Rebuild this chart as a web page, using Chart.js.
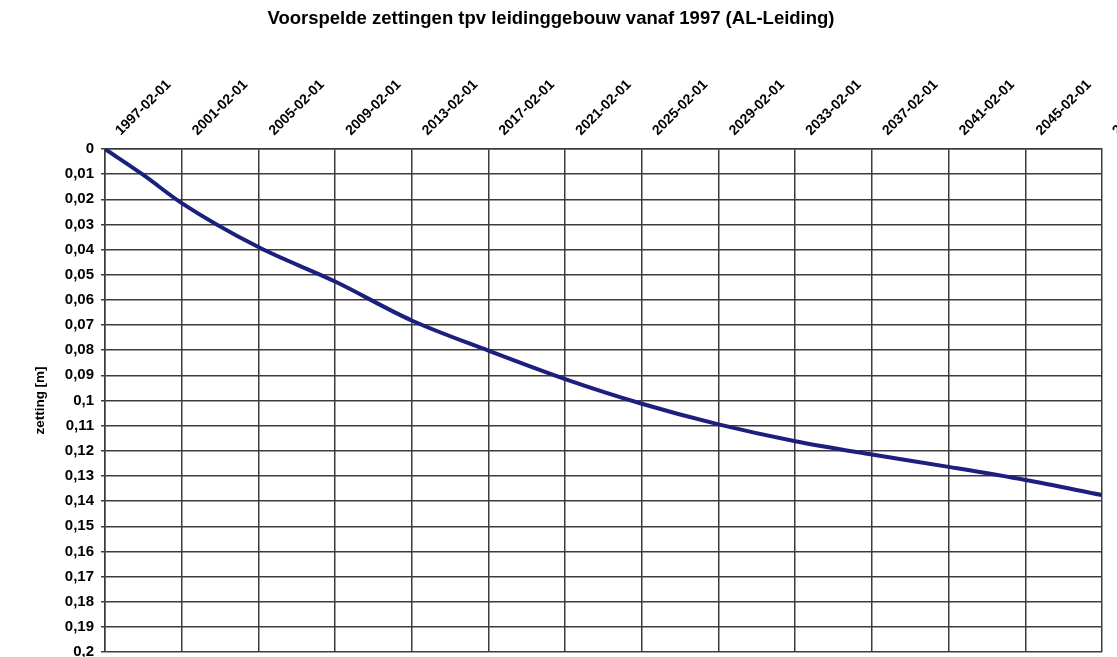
<!DOCTYPE html>
<html>
<head>
<meta charset="utf-8">
<script src="https://cdn.jsdelivr.net/npm/chart.js@4"></script>
<style>
  html, body { margin: 0; padding: 0; background: #fff; overflow: hidden; }
</style>
</head>
<body>
<canvas id="chart" width="1117" height="657"></canvas>
<script>
// jaar (1 februari) en voorspelde zetting [m]
const years = [1997, 1999, 2001, 2005, 2009, 2013, 2017, 2021, 2025, 2029, 2033, 2037, 2041, 2045, 2049];
const settlement = [0, 0.0103, 0.0215, 0.039, 0.0527, 0.0682, 0.0802, 0.0915, 0.1013, 0.1095, 0.1162, 0.1215, 0.1264, 0.1316, 0.1376];
const yearMin = 1997;
const yearMax = 2049;
const yearStep = 4;

const gridColor = "#3c3c3c";
const fontFamily = "Liberation Sans, Arial";

const ctx = document.getElementById("chart").getContext("2d");
new Chart(ctx, {
  type: "line",
  data: {
    datasets: [
      {
        data: years.map((y, i) => ({ x: y, y: settlement[i] })),
        borderColor: "#1b1f7e",
        borderWidth: 4,
        pointRadius: 0,
        cubicInterpolationMode: "monotone",
        fill: false,
      },
    ],
  },
  options: {
    responsive: false,
    animation: false,
    layout: { padding: { left: 0, right: 15, top: 0, bottom: 5 } },
    plugins: {
      legend: { display: false },
      tooltip: { enabled: false },
      title: {
        display: true,
        text: "Voorspelde zettingen tpv leidinggebouw vanaf 1997 (AL-Leiding)",
        color: "#000",
        font: { family: fontFamily, size: 18.5, weight: "bold" },
        padding: { top: 8, bottom: 6 },
      },
    },
    scales: {
      x: {
        type: "linear",
        position: "top",
        min: yearMin,
        max: yearMax,
        afterFit: (s) => {
          s.height = 149 - 36.2;
          s.paddingRight = 0;
          s.paddingLeft = 0;
        },
        ticks: {
          stepSize: yearStep,
          autoSkip: false,
          maxRotation: 45,
          minRotation: 45,
          padding: 10,
          labelOffset: 25,
          color: "#000",
          font: { family: fontFamily, size: 14, weight: "bold" },
          callback: (v) => v + "-02-01",
        },
        grid: { color: gridColor, lineWidth: 1.5, drawTicks: false, tickLength: 0 },
        border: { color: gridColor, width: 1.5 },
      },
      y: {
        reverse: true,
        min: 0,
        max: 0.2,
        afterFit: (s) => {
          s.width = 105;
          s.paddingTop = 0;
          s.paddingBottom = 0;
        },
        ticks: {
          stepSize: 0.01,
          autoSkip: false,
          padding: 7,
          color: "#000",
          font: { family: fontFamily, size: 15, weight: "bold" },
          callback: (v) => String(Number(v.toFixed(2))).replace(".", ","),
        },
        title: {
          display: true,
          text: "zetting [m]",
          color: "#000",
          font: { family: fontFamily, size: 13.5, weight: "bold" },
          padding: { top: 32, bottom: 0 },
        },
        grid: { color: gridColor, lineWidth: 1.5, tickLength: 4 },
        border: { color: gridColor, width: 1.5 },
      },
    },
  },
});
</script>
</body>
</html>
